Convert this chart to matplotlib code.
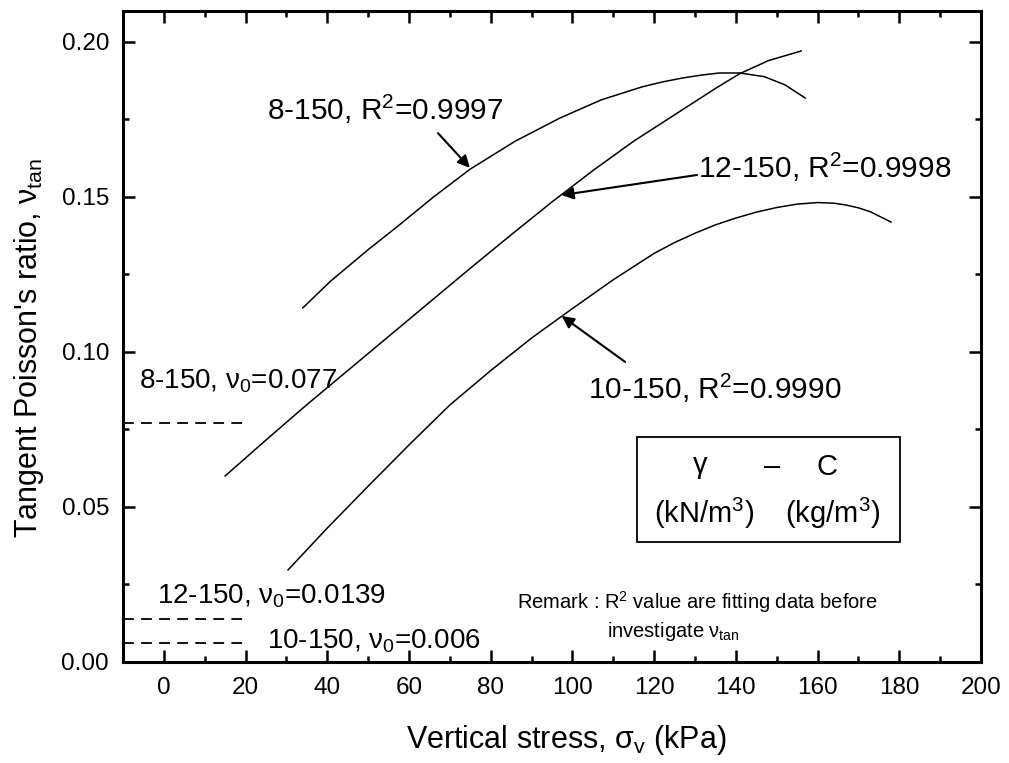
import matplotlib
matplotlib.use("Agg")
import matplotlib.pyplot as plt
from matplotlib.ticker import MultipleLocator

plt.rcParams['font.family'] = ['Liberation Sans', 'DejaVu Sans']
plt.rcParams['mathtext.fontset'] = 'custom'
plt.rcParams['mathtext.rm'] = 'Liberation Sans'
plt.rcParams['mathtext.it'] = 'Liberation Sans'
plt.rcParams['mathtext.bf'] = 'Liberation Sans:bold'

# curves (vertical stress kPa, tangent Poisson's ratio)
x_8 = [34, 40.6, 50, 57, 66, 75, 86, 97, 107, 117, 122, 127, 132, 136, 141, 147, 152, 157]
y_8 = [0.1142, 0.1226, 0.1330, 0.1403, 0.1500, 0.1590, 0.1680, 0.1755, 0.1813,
       0.1855, 0.1871, 0.1884, 0.1894, 0.1900, 0.1900, 0.1888, 0.1862, 0.1819]

x_12 = [15, 25, 35, 45, 55, 65, 75, 85, 95, 105, 115, 125, 135, 141, 148, 156]
y_12 = [0.0600, 0.0716, 0.0830, 0.0940, 0.1050, 0.1160, 0.1270, 0.1378, 0.1484,
        0.1585, 0.1680, 0.1765, 0.1850, 0.1898, 0.1940, 0.1971]

x_10 = [30.4, 40, 50, 60, 70, 80, 90, 100, 110, 120, 125, 130, 135, 140, 145, 150,
        155, 160, 164, 167, 170, 173, 178]
y_10 = [0.0297, 0.0432, 0.0567, 0.0700, 0.0829, 0.0940, 0.1045, 0.1140, 0.1233,
        0.1318, 0.1353, 0.1383, 0.1410, 0.1432, 0.1451, 0.1466, 0.1477, 0.1482,
        0.1480, 0.1474, 0.1465, 0.1452, 0.1419]

# initial Poisson's ratio lines
nu0_x = [-10, 20]
nu0_8 = 0.077
nu0_12 = 0.0139
nu0_10 = 0.006

fig = plt.figure(figsize=(10.09, 7.63), dpi=100)
ax = fig.add_axes([0.1219, 0.1324, 0.8503, 0.8532])

ax.plot(x_8, y_8, 'k-', lw=1.1)
ax.plot(x_12, y_12, 'k-', lw=1.1)
ax.plot(x_10, y_10, 'k-', lw=1.1)

for v in [nu0_8, nu0_12, nu0_10]:
    ax.plot(nu0_x, [v, v], 'k--', lw=1.3, dashes=(6, 4))

ax.set_xlim(-10, 200)
ax.set_ylim(0, 0.21)
ax.xaxis.set_major_locator(MultipleLocator(20))
ax.xaxis.set_minor_locator(MultipleLocator(10))
ax.yaxis.set_major_locator(MultipleLocator(0.05))
ax.yaxis.set_minor_locator(MultipleLocator(0.025))
ax.yaxis.set_major_formatter(matplotlib.ticker.FormatStrFormatter('%.2f'))

ax.tick_params(which='both', direction='in', top=True, right=True, width=1.8)
ax.tick_params(which='major', length=8.5, labelsize=17.5)
ax.tick_params(axis='x', which='major', pad=11)
ax.tick_params(axis='y', which='major', pad=10)
ax.tick_params(which='minor', length=4.5)
for s in ax.spines.values():
    s.set_linewidth(2.2)

ax.set_xlabel(r'Vertical stress, $\sigma_{\rm v}$ (kPa)', fontsize=22, labelpad=17)
ax.xaxis.label.set_x(0.516)
ax.set_ylabel(r"Tangent Poisson's ratio, $\nu_{\rm tan}$", fontsize=22)
ax.yaxis.set_label_coords(-0.09, 0.482)

fs = 21.5
ax.text(25.2, 0.1784, r'8-150, R$^2$=0.9997', fontsize=fs, va='center')
ax.text(130.7, 0.1594, r'12-150, R$^2$=0.9998', fontsize=fs, va='center')
ax.text(103.8, 0.0884, r'10-150, R$^2$=0.9990', fontsize=fs, va='center')

arw = dict(arrowstyle='-|>', color='k', lw=1.5, mutation_scale=18, shrinkA=0, shrinkB=0)
ax.annotate('', xy=(74.9, 0.1594), xytext=(67.1, 0.1706), arrowprops=arw)
ax.annotate('', xy=(97.3, 0.1506), xytext=(130.5, 0.1571), arrowprops=arw)
ax.annotate('', xy=(97.4, 0.1116), xytext=(112.9, 0.0968), arrowprops=arw)

fs0 = 20
ax.text(-6.2, 0.0905, r'8-150, $\nu_0$=0.077', fontsize=fs0, va='center')
ax.text(-1.7, 0.0213, r'12-150, $\nu_0$=0.0139', fontsize=fs0, va='center')
ax.text(25.2, 0.0068, r'10-150, $\nu_0$=0.006', fontsize=fs0, va='center')

# legend-like box
fsb = 21
ax.add_patch(plt.Rectangle((115.8, 0.0387), 64.4, 0.0339, fill=False, lw=1.3,
                           edgecolor='k'))
ax.text(131.2, 0.0629, r'$\gamma$', fontsize=fsb, ha='center', va='center')
ax.text(148.8, 0.0629, '–', fontsize=fsb, ha='center', va='center')
ax.text(162.3, 0.0629, 'C', fontsize=fsb, ha='center', va='center')
ax.text(132.2, 0.0480, r'(kN/m$^3$)', fontsize=fsb, ha='center', va='center')
ax.text(163.8, 0.0480, r'(kg/m$^3$)', fontsize=fsb, ha='center', va='center')

ax.text(86.4, 0.0194, r'Remark : R$^2$ value are fitting data before', fontsize=14.5,
        va='center')
ax.text(108.4, 0.0097, r'investigate $\nu_{\rm tan}$', fontsize=14.5, va='center')

fig.savefig('out.png', dpi=100)
